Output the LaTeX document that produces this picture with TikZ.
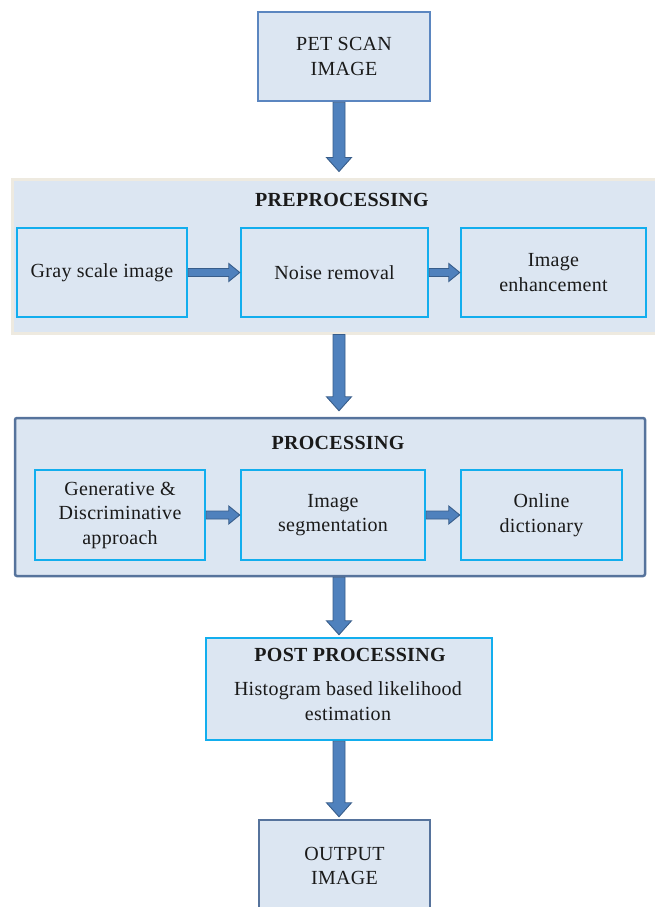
\documentclass[tikz,border=0pt]{standalone}
\usepackage{fontspec}
\setmainfont[LetterSpace=1.5]{Liberation Serif}
\usetikzlibrary{calc}

\definecolor{paleblue}{HTML}{DCE6F2}
\definecolor{steel}{HTML}{5B86C0}
\definecolor{slate}{HTML}{56739C}
\definecolor{cyanedge}{HTML}{12AEEE}
\definecolor{beigeedge}{HTML}{EEEAE0}
\definecolor{arrowfill}{HTML}{4F81BD}
\definecolor{arrowedge}{HTML}{385D8A}
\definecolor{inktext}{HTML}{1A1A1A}

% vertical block arrow along the common axis: from, to, gap before the target
\newcommand{\vconn}[3]{%
  \filldraw[blockarrow] let \p1=(#1.south -| axis), \p2=(#2.north -| axis) in
    (\x1-6pt,\y1) -- (\x1+6pt,\y1) -- (\x1+6pt,\y2+#3pt+14pt)
    -- (\x1+12.5pt,\y2+#3pt+14pt) -- (\x1,\y2+#3pt)
    -- (\x1-12.5pt,\y2+#3pt+14pt) -- (\x1-6pt,\y2+#3pt+14pt) -- cycle;}
% horizontal block arrow between two boxes of a row
\newcommand{\hconn}[2]{%
  \filldraw[blockarrow] let \p1=(#1.east), \p2=(#2.west) in
    (\x1,\y1+4pt) -- (\x2-11pt,\y1+4pt) -- (\x2-11pt,\y1+9pt) -- (\x2,\y1)
    -- (\x2-11pt,\y1-9pt) -- (\x2-11pt,\y1-4pt) -- (\x1,\y1-4pt) -- cycle;}

\begin{document}
\begin{tikzpicture}[x=1pt,y=-1pt,
  txt/.style={font=\fontsize{20}{24.5}\selectfont, text=inktext, align=center, inner sep=0pt},
  endbox/.style={txt, draw=steel, line width=2.5pt, fill=paleblue},
  stagebox/.style={txt, draw=cyanedge, line width=2.5pt, fill=paleblue},
  blockarrow/.style={fill=arrowfill, draw=arrowedge, line width=0.9pt, line join=miter},
  title/.style={txt, font=\fontsize{20}{24.5}\selectfont\bfseries}]

\useasboundingbox (0,0) rectangle (655,907);
\coordinate (axis) at (339,0);

% input image
\node[endbox, minimum width=172pt, minimum height=89pt] (pet) at (344,56.5) {PET SCAN\\IMAGE};

% preprocessing stage
\node[draw=beigeedge, line width=3pt, fill=paleblue, minimum width=650pt, minimum height=154pt, inner sep=0pt] (pre) at (337,256) {};
\node[title] (pretitle) at (342,200) {PREPROCESSING};
\node[stagebox, minimum width=170pt, minimum height=89pt] (gray) at (102,272.5) {Gray scale image};
\node[stagebox, minimum width=187pt, minimum height=89pt] (noise) at (334.5,272.5) {Noise removal};
\node[stagebox, minimum width=185pt, minimum height=89pt] (enh) at (553.5,272.5) {Image\\enhancement};

% processing stage
\node[draw=slate, line width=2.5pt, fill=paleblue, rounded corners=2pt, minimum width=630pt, minimum height=158pt, inner sep=0pt] (proc) at (330,497) {};
\node[title] (proctitle) at (338,443) {PROCESSING};
\node[stagebox, minimum width=170pt, minimum height=90pt] (gen) at (120,515) {Generative \&\\Discriminative\\approach};
\node[stagebox, minimum width=184pt, minimum height=90pt] (seg) at (333,515) {Image\\segmentation};
\node[stagebox, minimum width=161pt, minimum height=90pt] (dict) at (541.5,515) {Online\\dictionary};

% post processing
\node[stagebox, minimum width=286pt, minimum height=102pt] (post) at (349,689) {};
\node[title] (posttitle) at (350,655) {POST PROCESSING};
\node[txt] (posttext) at (348,701) {Histogram based likelihood\\estimation};

% output image
\node[endbox, draw=slate, minimum width=171pt, minimum height=92pt] (out) at (344.5,866) {OUTPUT\\IMAGE};

% connectors
\vconn{pet}{pre}{6}
\vconn{pre}{proc}{6}
\vconn{proc}{post}{2}
\vconn{post}{out}{2}
\hconn{gray}{noise}
\hconn{noise}{enh}
\hconn{gen}{seg}
\hconn{seg}{dict}
\end{tikzpicture}
\end{document}
